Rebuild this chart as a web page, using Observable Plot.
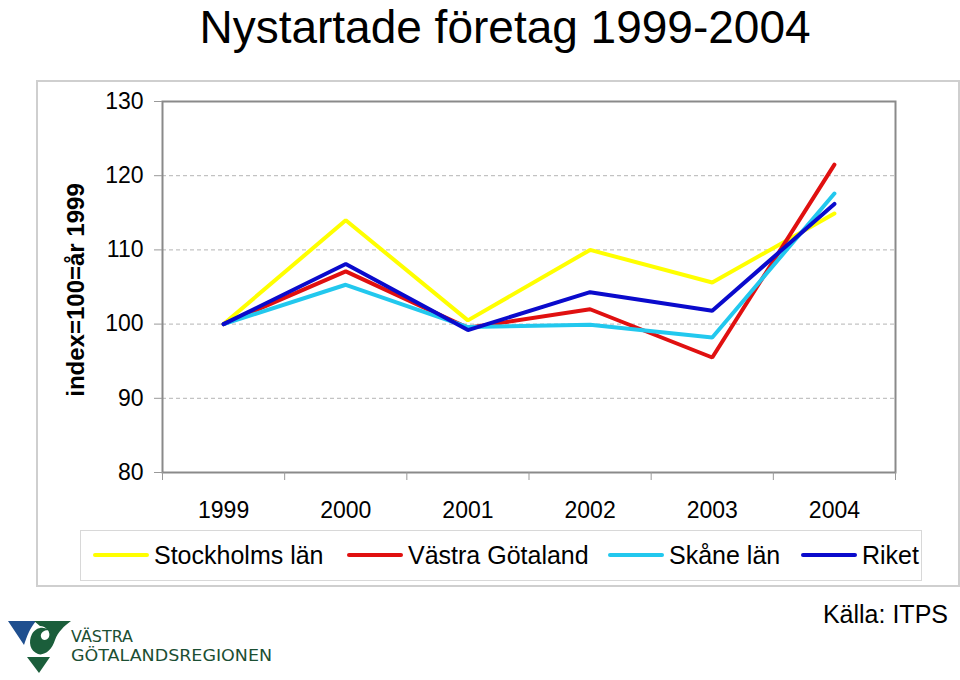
<!DOCTYPE html>
<html>
<head>
<meta charset="utf-8">
<script src="https://cdn.jsdelivr.net/npm/d3@7"></script>
<script src="https://cdn.jsdelivr.net/npm/@observablehq/plot@0.6"></script>
<style>
  html, body { margin: 0; padding: 0; background: #fff; }
  body { width: 960px; height: 680px; position: relative; overflow: hidden; font-family: "Liberation Sans", Arial, sans-serif; color: #000; }
  #title { position: absolute; left: 0; width: 1010px; top: 0px; text-align: center; font-size: 46px; line-height: normal; white-space: nowrap; }
  #box { position: absolute; left: 36px; top: 80px; width: 920px; height: 503px; border: 2px solid #cfcfcf; }
  #chart { position: absolute; left: 0; top: 80px; }
  #ylabel { position: absolute; left: 76px; top: 290px; transform: translate(-50%, -50%) rotate(-90deg); font-size: 24px; font-weight: bold; white-space: nowrap; }
  #legend { position: absolute; left: 80px; top: 530px; width: 842px; height: 51px; border: 1px solid #d8d8d8; box-sizing: border-box; }
  .item { position: absolute; top: 8px; height: 32px; display: flex; align-items: center; font-size: 25px; white-space: nowrap; }
  .item span.sw { display: inline-block; width: 56px; height: 4px; margin-right: 5px; border-radius: 2px; }
  #source { position: absolute; right: 12px; top: 600px; font-size: 25px; }
  #logo { position: absolute; left: 0; top: 610px; }
</style>
</head>
<body>
<div id="box"></div>
<div id="title">Nystartade företag 1999-2004</div>
<div id="chart"></div>
<div id="ylabel">index=100=år 1999</div>
<div id="legend"></div>
<div id="source">Källa: ITPS</div>
<svg id="logo" width="290" height="70" viewBox="0 610 290 70">
  <path d="M8,621 L36,621 C30,628 27,636 24,645 Z" fill="#1f4f8f"/>
  <path d="M34,621 L71,621 C64,626 58,632 55,640 C52,650 44,656 38,654 C30,651 28,642 32,634 C36,627 44,626 48,630 C44,630 40,633 41,637 C42,641 47,641 49,637 C51,632 46,626 40,626 Z" fill="#1b5e3b"/>
  <path d="M27,657 L50,657 L39,673 Z" fill="#1b5e3b"/>
  <text x="71" y="642" font-family="DejaVu Sans, sans-serif" font-size="16" fill="#1b4f33" textLength="62" lengthAdjust="spacingAndGlyphs">VÄSTRA</text>
  <text x="71" y="661" font-family="DejaVu Sans, sans-serif" font-size="16" fill="#1b4f33" textLength="201" lengthAdjust="spacingAndGlyphs">GÖTALANDSREGIONEN</text>
</svg>
<script>
const years = [1999, 2000, 2001, 2002, 2003, 2004];
const stockholmsLan = [100, 114.0, 100.5, 110.0, 105.6, 114.9];
const vastraGotaland = [100, 107.1, 99.5, 102.0, 95.5, 121.5];
const skaneLan = [100, 105.3, 99.6, 99.9, 98.2, 117.6];
const riket = [100, 108.1, 99.2, 104.3, 101.8, 116.2];
const seriesNames = ["Stockholms län", "Västra Götaland", "Skåne län", "Riket"];
const seriesColors = ["#ffff00", "#e01010", "#22c8ee", "#0a0acc"];
const yTicks = [80, 90, 100, 110, 120, 130];
const gridTicks = [90, 100, 110, 120];

const seriesValues = [stockholmsLan, vastraGotaland, skaneLan, riket];
const data = [];
seriesNames.forEach((name, i) => {
  years.forEach((yr, j) => data.push({series: name, year: yr, value: seriesValues[i][j]}));
});
const boundaries = years.map(y => y - 0.5).concat([years[years.length - 1] + 0.5]);

const chart = Plot.plot({
  width: 960,
  height: 450,
  marginLeft: 162,
  marginRight: 65,
  marginTop: 21,
  marginBottom: 58,
  style: {fontFamily: "'Liberation Sans', Arial, sans-serif", fontSize: "23px", color: "#000", background: "none", overflow: "visible"},
  x: {type: "linear", domain: [years[0] - 0.5, years[years.length - 1] + 0.5]},
  y: {domain: [yTicks[0], yTicks[yTicks.length - 1]]},
  color: {domain: seriesNames, range: seriesColors},
  marks: [
    Plot.gridY(gridTicks, {stroke: "#b4b4b4", strokeOpacity: 1, strokeWidth: 1, strokeDasharray: "4,3"}),
    Plot.frame({stroke: "#8a8a8a", strokeWidth: 2}),
    Plot.axisY(yTicks, {tickSize: 8, tickPadding: 11, stroke: "#999", label: null, fill: "#000"}),
    Plot.axisX(boundaries, {tickSize: 8, tickFormat: () => "", label: null, stroke: "#999"}),
    Plot.axisX(years, {tickSize: 0, tickPadding: 29, tickFormat: d => String(d), label: null, fill: "#000"}),
    Plot.line(data, {x: "year", y: "value", z: "series", stroke: "series", strokeWidth: 4, strokeLinejoin: "miter", strokeLinecap: "round"})
  ]
});
document.getElementById("chart").appendChild(chart);

const legend = document.getElementById("legend");
const legendLefts = [12, 266, 527, 720];
seriesNames.forEach((name, i) => {
  const d = document.createElement("div");
  d.className = "item";
  d.style.left = legendLefts[i] + "px";
  const sw = document.createElement("span");
  sw.className = "sw";
  sw.style.background = seriesColors[i];
  d.appendChild(sw);
  d.appendChild(document.createTextNode(name));
  legend.appendChild(d);
});
</script>
</body>
</html>
